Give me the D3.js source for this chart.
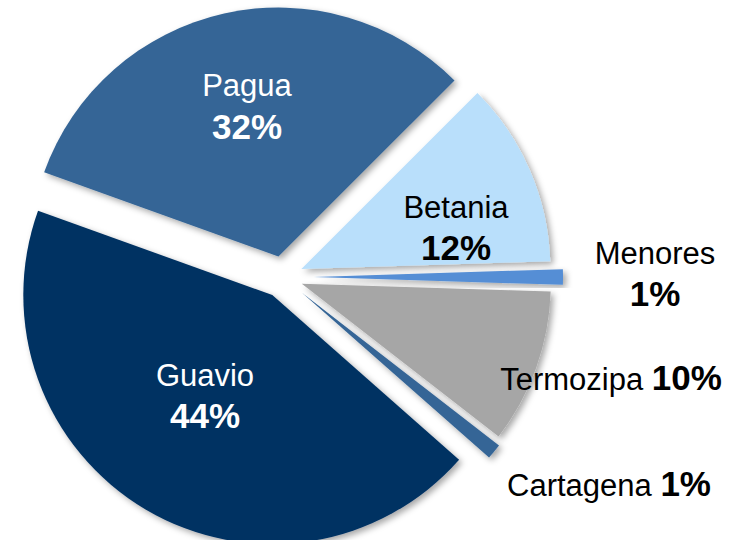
<!DOCTYPE html>
<html><head><meta charset="utf-8">
<script src="https://cdn.jsdelivr.net/npm/d3@7"></script>
<style>html,body{margin:0;padding:0;background:#fff;}svg{display:block;}</style>
</head><body>
<svg id="chart" width="746" height="540"></svg>
<script>
const categories = ["Betania", "Menores", "Termozipa", "Cartagena", "Guavio", "Pagua"];
const values = [12, 1, 10, 1, 44, 32];
const valueLabels = ["12%", "1%", "10%", "1%", "44%", "32%"];
const colors = ["#B9DFFB", "#558ED5", "#A6A6A6", "#356596", "#003262", "#356596"];
const explode = [20, 31, 20, 25, 21, 21];

const svg = d3.select("#chart");
const cx = 283, cy = 277, r = 249;

const defs = svg.append("defs");
const f = defs.append("filter").attr("id", "shadow").attr("x", "-20%").attr("y", "-20%").attr("width", "140%").attr("height", "140%");
f.append("feDropShadow").attr("dx", 3).attr("dy", 3).attr("stdDeviation", 3).attr("flood-color", "#000").attr("flood-opacity", 0.35);

const pie = d3.pie().sort(null).value(d => d)
  .startAngle(Math.PI / 4).endAngle(Math.PI / 4 + 2 * Math.PI);
const arcs = pie(values);
const arc = d3.arc().innerRadius(0).outerRadius(r);

const g = svg.append("g").attr("transform", `translate(${cx},${cy})`);
g.selectAll("path").data(arcs).enter().append("path")
  .attr("d", arc)
  .attr("fill", (d, i) => colors[i])
  .attr("filter", "url(#shadow)")
  .attr("transform", (d, i) => {
    const a = (d.startAngle + d.endAngle) / 2;
    return `translate(${explode[i] * Math.sin(a)},${-explode[i] * Math.cos(a)})`;
  });

const font = "Liberation Sans, Arial, sans-serif";
const nameSize = 31, pctSize = 35;
const labelPos = [
  {i: 0, x: 456, y1: 218, y2: 260, fill: "#000"},
  {i: 1, x: 655, y1: 264, y2: 306, fill: "#000"},
  {i: 4, x: 205, y1: 386, y2: 428, fill: "#fff"},
  {i: 5, x: 247, y1: 96, y2: 139, fill: "#fff"}
];
labelPos.forEach(p => {
  svg.append("text").attr("x", p.x).attr("y", p.y1).attr("text-anchor", "middle")
    .attr("font-family", font).attr("font-size", nameSize).attr("fill", p.fill).text(categories[p.i]);
  svg.append("text").attr("x", p.x).attr("y", p.y2).attr("text-anchor", "middle")
    .attr("font-family", font).attr("font-size", pctSize).attr("font-weight", "bold").attr("fill", p.fill).text(valueLabels[p.i]);
});
const inline = [
  {i: 2, x: 611, y: 390},
  {i: 3, x: 609, y: 496}
];
inline.forEach(p => {
  const t = svg.append("text").attr("x", p.x).attr("y", p.y).attr("text-anchor", "middle")
    .attr("font-family", font).attr("fill", "#000");
  t.append("tspan").attr("font-size", nameSize).text(categories[p.i] + " ");
  t.append("tspan").attr("font-size", pctSize).attr("font-weight", "bold").text(valueLabels[p.i]);
});
</script>
</body></html>
